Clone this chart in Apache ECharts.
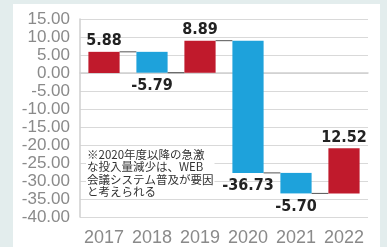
<!DOCTYPE html>
<html>
<head>
<meta charset="utf-8">
<script src="https://cdn.jsdelivr.net/npm/echarts@6/dist/echarts.min.js"></script>
<style>
  html, body { margin: 0; padding: 0; background: #e3eded; }
  #chart { width: 387px; height: 247px; }
</style>
</head>
<body>
<div id="chart"></div>
<script>
const years = ['2017', '2018', '2019', '2020', '2021', '2022'];
const changes = [5.88, -5.79, 8.89, -36.73, -5.70, 12.52];
const yMin = -40;
const yMax = 15;
const yStep = 5;
const note = '※2020年度以降の急激\nな投入量減少は、WEB\n会議システム普及が要因\nと考えられる';

const RED = '#c01a2c';
const BLUE = '#1ea2db';

// running totals for the waterfall
const starts = [];
const ends = [];
let run = 0;
changes.forEach(v => {
  starts.push(run);
  run = +(run + v).toFixed(2);
  ends.push(run);
});
const rows = years.map((y, i) => [i, starts[i], ends[i], changes[i]]);

const chart = echarts.init(document.getElementById('chart'));

const renderItem = (params, api) => {
  const i = api.value(0);
  const s = api.value(1);
  const e = api.value(2);
  const v = api.value(3);
  const p0 = api.coord([i, s]);
  const p1 = api.coord([i, e]);
  const bw = api.size([1, 0])[0] * 0.65;
  const x = p0[0] - bw / 2;
  const top = Math.min(p0[1], p1[1]);
  const h = Math.abs(p1[1] - p0[1]);
  const children = [
    {
      type: 'rect',
      shape: { x: x, y: top, width: bw, height: h },
      style: { fill: v >= 0 ? RED : BLUE }
    },
    {
      type: 'text',
      style: {
        text: v.toFixed(2),
        x: p0[0],
        y: v >= 0 ? top - 3 : top + h + 5,
        align: 'center',
        verticalAlign: v >= 0 ? 'bottom' : 'top',
        font: 'bold 16px "DejaVu Sans Condensed", sans-serif',
        fill: '#222'
      },
      z2: 10
    }
  ];
  if (i < rows.length - 1) {
    const nx = api.coord([i + 1, e])[0] - bw / 2;
    children.push({
      type: 'line',
      shape: { x1: x + bw, y1: p1[1], x2: nx, y2: p1[1] },
      style: { stroke: '#555', lineWidth: 1 }
    });
  }
  return { type: 'group', children: children };
};

chart.setOption({
  backgroundColor: '#e3eded',
  animation: false,
  graphic: [
    {
      type: 'rect',
      left: 13, top: 4, z: -10,
      shape: { width: 367, height: 250 },
      style: { fill: '#ffffff' }
    },
    {
      type: 'text',
      left: 86, top: 147, z: 5,
      style: {
        text: note,
        font: '11.5px "Noto Sans CJK JP", sans-serif',
        lineHeight: 12.5,
        fill: '#333',
        backgroundColor: '#ffffff',
        padding: [1, 1]
      }
    }
  ],
  grid: { left: 80, right: 19, top: 19, bottom: 30 },
  xAxis: {
    type: 'category',
    data: years,
    axisLine: { show: true, lineStyle: { color: '#cfcfcf', width: 1.5 } },
    axisTick: { show: false },
    axisLabel: {
      interval: 0,
      margin: 12,
      color: '#8a8a8a',
      fontSize: 18,
      fontFamily: '"Liberation Sans Narrow", sans-serif'
    }
  },
  yAxis: {
    type: 'value',
    min: yMin,
    max: yMax,
    interval: yStep,
    axisLine: { show: true, lineStyle: { color: '#cfcfcf', width: 1.5 } },
    axisTick: { show: false },
    splitLine: { lineStyle: { color: '#d9d9d9', width: 1.2 } },
    axisLabel: {
      margin: 10,
      color: '#8a8a8a',
      fontSize: 17,
      fontFamily: '"Liberation Sans Narrow", sans-serif',
      formatter: v => v.toFixed(2)
    }
  },
  series: [
    {
      type: 'custom',
      renderItem: renderItem,
      encode: { x: 0, y: [1, 2] },
      data: rows
    }
  ]
});
</script>
</body>
</html>
